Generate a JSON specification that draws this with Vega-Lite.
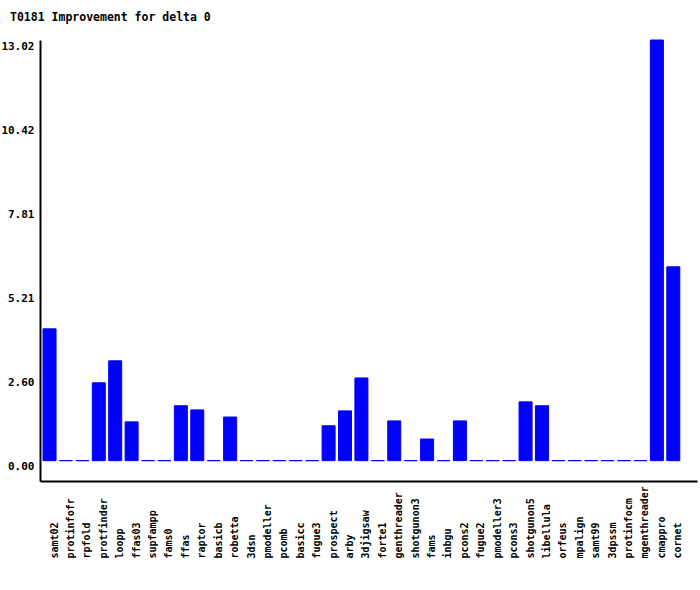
{
  "$schema": "https://vega.github.io/schema/vega-lite/v6.json",
  "autosize": "none",
  "width": 657,
  "height": 441,
  "padding": {"left": 40, "top": 40, "right": 3, "bottom": 109},
  "background": "white",
  "title": {
    "text": "T0181 Improvement for delta 0",
    "anchor": "start",
    "frame": "group",
    "dx": -30,
    "offset": 7,
    "baseline": "alphabetic",
    "font": "DejaVu Sans Mono",
    "fontSize": 11.5,
    "fontWeight": "bold",
    "color": "black"
  },
  "config": {
    "view": {"stroke": null}
  },
  "data": {
    "values": [
      {"method": "samt02", "value": 4.08},
      {"method": "protinfofr", "value": 0},
      {"method": "rpfold", "value": 0},
      {"method": "protfinder", "value": 2.41},
      {"method": "loopp", "value": 3.09},
      {"method": "ffas03", "value": 1.2},
      {"method": "supfampp", "value": 0},
      {"method": "fams0", "value": 0},
      {"method": "ffas", "value": 1.7},
      {"method": "raptor", "value": 1.57},
      {"method": "basicb", "value": 0},
      {"method": "robetta", "value": 1.35},
      {"method": "3dsn", "value": 0},
      {"method": "pmodeller", "value": 0},
      {"method": "pcomb", "value": 0},
      {"method": "basicc", "value": 0},
      {"method": "fugue3", "value": 0},
      {"method": "prospect", "value": 1.08},
      {"method": "arby", "value": 1.54},
      {"method": "3djigsaw", "value": 2.56},
      {"method": "forte1", "value": 0},
      {"method": "genthreader", "value": 1.23},
      {"method": "shotgunon3", "value": 0},
      {"method": "fams", "value": 0.67},
      {"method": "inbgu", "value": 0},
      {"method": "pcons2", "value": 1.23},
      {"method": "fugue2", "value": 0},
      {"method": "pmodeller3", "value": 0},
      {"method": "pcons3", "value": 0},
      {"method": "shotgunon5", "value": 1.82},
      {"method": "libellula", "value": 1.7},
      {"method": "orfeus", "value": 0},
      {"method": "mpalign", "value": 0},
      {"method": "samt99", "value": 0},
      {"method": "3dpssm", "value": 0},
      {"method": "protinfocm", "value": 0},
      {"method": "mgenthreader", "value": 0},
      {"method": "cmappro", "value": 13.02},
      {"method": "cornet", "value": 6.0}
    ]
  },
  "mark": {"type": "bar", "color": "#0000ff", "stroke": "#0000ff", "strokeWidth": 1},
  "encoding": {
    "x": {
      "field": "method",
      "type": "nominal",
      "sort": null,
      "scale": {"paddingInner": 0.207, "paddingOuter": 0.616, "align": 0.15},
      "axis": {
        "title": null,
        "labelAngle": 270,
        "labelAlign": "left",
        "labelBaseline": "middle",
        "labelPadding": 77,
        "labelOffset": 5,
        "labelFont": "DejaVu Sans Mono",
        "labelFontSize": 10,
        "labelFontWeight": "bold",
        "labelColor": "black",
        "ticks": false,
        "tickSize": 0,
        "domainColor": "black",
        "domainWidth": 2,
        "grid": false
      }
    },
    "y": {
      "field": "value",
      "type": "quantitative",
      "scale": {"domain": [-0.63, 13.02], "nice": false, "zero": false},
      "axis": {
        "title": null,
        "values": [0, 2.604, 5.208, 7.812, 10.416, 13.02],
        "format": ".2f",
        "labelFont": "DejaVu Sans Mono",
        "labelFontSize": 11,
        "labelFontWeight": "bold",
        "labelColor": "black",
        "labelOffset": 6,
        "labelPadding": 6,
        "ticks": false,
        "tickSize": 0,
        "domainColor": "black",
        "domainWidth": 2,
        "grid": false
      }
    },
    "y2": {"datum": 0}
  }
}
